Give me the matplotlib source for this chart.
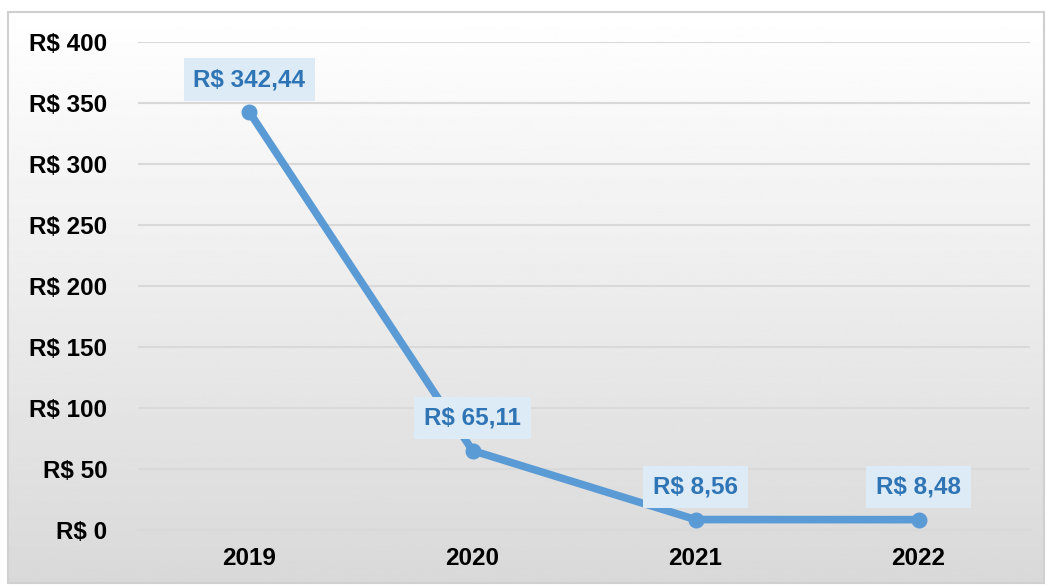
import numpy as np
import matplotlib.pyplot as plt
from matplotlib.ticker import FuncFormatter

# ----------------------------
# DATA
# ----------------------------
anos = ["2019", "2020", "2021", "2022"]
valores = [342.44, 65.11, 8.56, 8.48]
rotulos = ["R$ 342,44", "R$ 65,11", "R$ 8,56", "R$ 8,48"]
y_ticks = [0, 50, 100, 150, 200, 250, 300, 350, 400]

azul = "#5B9BD5"
azul_texto = "#2F75B5"
plt.rcParams["font.family"] = ["Liberation Sans", "DejaVu Sans"]

fig = plt.figure(figsize=(10.49, 5.85), dpi=100)

# ----------------------------
# BACKGROUND (gradient + border)
# ----------------------------
bg = fig.add_axes([8 / 1049, 2 / 585, 1036 / 1049, 571 / 585])
grad = np.linspace(1.0, 0.85, 256).reshape(-1, 1)
bg.imshow(grad, aspect="auto", cmap="gray", vmin=0, vmax=1,
          extent=[0, 1, 0, 1], origin="upper")
bg.set_xticks([])
bg.set_yticks([])
for s in bg.spines.values():
    s.set_color("#D0D0D0")
    s.set_linewidth(1.5)
bg.set_zorder(0)

# ----------------------------
# CHART
# ----------------------------
ax = fig.add_axes([138 / 1049, 1 - 530 / 585, 892 / 1049, 488 / 585])
ax.set_zorder(1)
ax.patch.set_alpha(0)

x = np.arange(len(anos))
ax.plot(x, valores, color=azul, linewidth=5.5, marker="o", markersize=10.5,
        solid_capstyle="round", zorder=3)

for xi, v, txt in zip(x, valores, rotulos):
    ax.annotate(txt, (xi, v), xytext=(0, 23.5), textcoords="offset points",
                ha="center", va="center", fontsize=17.5, fontweight="bold",
                color=azul_texto, zorder=4,
                bbox=dict(boxstyle="square,pad=0.4", fc="#DDEBF7", ec="none"))

ax.set_xlim(-0.5, len(anos) - 0.5)
ax.set_ylim(0, 400)
ax.set_yticks(y_ticks)
ax.yaxis.set_major_formatter(FuncFormatter(lambda v, p: f"R$ {int(v)}"))
ax.set_xticks(x)
ax.set_xticklabels(anos)

ax.grid(axis="y", color="#D9D9D9", linewidth=1.5)
ax.set_axisbelow(True)
for s in ["top", "right", "left"]:
    ax.spines[s].set_visible(False)
ax.spines["bottom"].set_color("#D9D9D9")
ax.spines["bottom"].set_linewidth(1.5)

ax.tick_params(axis="both", length=0, labelsize=17.5, labelcolor="black")
ax.tick_params(axis="y", pad=22)
ax.tick_params(axis="x", pad=12)
for lbl in ax.get_xticklabels() + ax.get_yticklabels():
    lbl.set_fontweight("bold")

plt.savefig("out.png", dpi=100)
plt.close()
